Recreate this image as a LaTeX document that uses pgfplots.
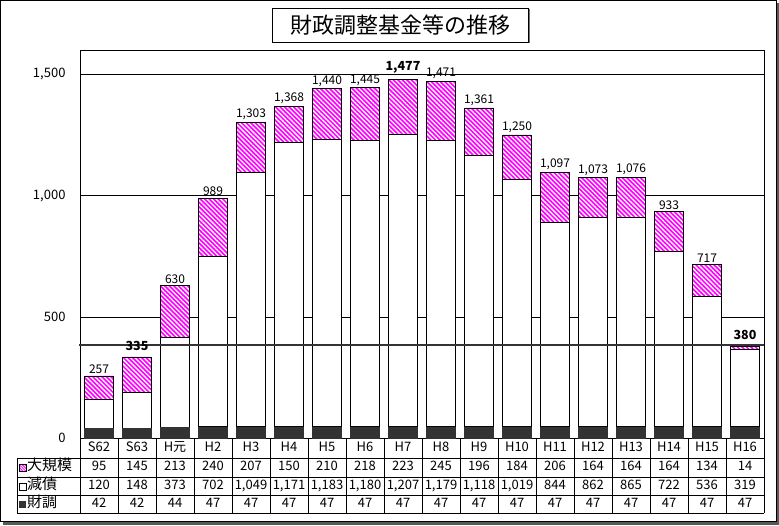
\documentclass[border=0pt]{standalone}
\usepackage{fontspec}
\setmainfont{Noto Sans CJK JP}
\usepackage{pgfplots}
\usepackage{pgfplotstable}
\pgfplotsset{compat=1.18}
\usetikzlibrary{patterns.meta}
\definecolor{zaicho}{HTML}{333333}
\definecolor{hatch}{HTML}{FF00FF}
\pgfkeys{/pgf/number format/.cd, 1000 sep={,}, assume math mode=true}

% 大規模 / 減債 / 財調, total, bold label flag
\pgfplotstableread{
cat dai gen zai tot b
S62 95 120 42 257 0
S63 145 148 42 335 1
H元 213 373 44 630 0
H2 240 702 47 989 0
H3 207 1049 47 1303 0
H4 150 1171 47 1368 0
H5 210 1183 47 1440 0
H6 218 1180 47 1445 0
H7 223 1207 47 1477 1
H8 245 1179 47 1471 0
H9 196 1118 47 1361 0
H10 184 1019 47 1250 0
H11 206 844 47 1097 0
H12 164 862 47 1073 0
H13 164 865 47 1076 0
H14 164 722 47 933 0
H15 134 536 47 717 0
H16 14 319 47 380 1
}\data

\begin{document}
\begin{tikzpicture}[x=1pt, y=1pt,
  cell/.style={anchor=center, inner sep=0pt, text height=0.72em, text depth=0.12em,
    font=\fontsize{13}{13}\selectfont}]
\useasboundingbox (0,0) rectangle (779,-526);
% outer frame
\draw[black!65, line width=3pt] (778,-3) -- (778,-523.5) -- (3,-523.5);
\draw[black, line width=1.4pt] (0.7,-0.7) rectangle (776.3,-521.5);

% title box
\fill[black!55] (273.5,-9.5) rectangle (529.5,-43.5);
\draw[black, line width=0.8pt, fill=white] (272,-8) rectangle (528,-42);
\node[font=\fontsize{22}{22}\selectfont] at (400,-25) {財政調整基金等の推移};

\begin{axis}[
  at={(80pt,-438.3pt)}, anchor=south west,
  scale only axis, width=684pt, height=388.3pt,
  xmin=-0.5, xmax=17.5, ymin=0, ymax=1600,
  ybar stacked, bar width=29pt,
  xtick=\empty, ytick={0,500,1000,1500},
  scaled y ticks=false,
  ymajorgrids, grid style={black, line width=0.6pt},
  major tick length=0pt,
  axis line style={black, line width=0.8pt},
  yticklabel style={font=\fontsize{13}{13}\selectfont, xshift=-11pt,
    /pgf/number format/1000 sep={,}, /pgf/number format/assume math mode=true},
]
\addplot[fill=zaicho, draw=zaicho] table[x expr=\coordindex, y=zai]{\data};
\addplot[fill=white, draw=black, line width=0.8pt] table[x expr=\coordindex, y=gen]{\data};
\addplot[draw=black, line width=0.8pt, preaction={fill=hatch},
  pattern={Lines[angle=-45, distance=3.2pt, line width=1.3pt]}, pattern color=white]
  table[x expr=\coordindex, y=dai]{\data};
\end{axis}

\begin{axis}[
  at={(80pt,-438.3pt)}, anchor=south west,
  scale only axis, width=684pt, height=388.3pt,
  xmin=-0.5, xmax=17.5, ymin=0, ymax=1600,
  hide axis, clip=false,
  every node near coord/.append style={font=\fontsize{12}{12}\selectfont, inner sep=1pt},
]
\addplot[black!80, line width=1.8pt, forget plot] coordinates {(-0.53,386) (17.5,386)};
\addplot[draw=none, mark=none, nodes near coords,
  every node near coord/.append style={yshift=1pt},
  restrict expr to domain={\thisrow{b}}{0:0}]
  table[x expr=\coordindex, y=tot]{\data};
\addplot[draw=none, mark=none, nodes near coords,
  every node near coord/.append style={yshift=5pt, font=\fontsize{12.5}{12.5}\selectfont\bfseries},
  restrict expr to domain={\thisrow{b}}{1:1}]
  table[x expr=\coordindex, y=tot]{\data};
\end{axis}

% data table below the chart
\foreach \yy in {458.3,477.3,495.5,513}{
  \draw[black, line width=0.8pt] (17,-\yy) -- (764,-\yy);
}
\draw[black, line width=0.8pt] (17,-458.3) -- (17,-513);
\foreach \i in {0,...,18}{
  \draw[black, line width=0.8pt] ({80+38*\i},-438.3) -- ({80+38*\i},-513);
}
% legend column
\fill[hatch] (19,-464.3) rectangle (26,-471.3);
\fill[pattern={Lines[angle=-45, distance=2pt, line width=0.8pt]}, pattern color=white] (19,-464.3) rectangle (26,-471.3);
\draw[black, line width=0.6pt] (19,-464.3) rectangle (26,-471.3);
\draw[black, line width=0.6pt, fill=white] (19,-483) rectangle (26,-490);
\fill[zaicho] (19,-501) rectangle (26,-508);
\node[cell, anchor=west, font=\fontsize{15}{15}\selectfont] at (27,-467.8) {大規模};
\node[cell, anchor=west, font=\fontsize{15}{15}\selectfont] at (27,-486.4) {減債};
\node[cell, anchor=west, font=\fontsize{15}{15}\selectfont] at (27,-504.3) {財調};

\foreach \i in {0,...,17}{
  \pgfmathsetmacro{\cx}{99+38*\i}
  \pgfplotstablegetelem{\i}{cat}\of\data
  \node[cell] at (\cx,-448.3) {\pgfplotsretval};
  \pgfplotstablegetelem{\i}{dai}\of\data
  \node[cell] at (\cx,-467.8) {\pgfmathprintnumber{\pgfplotsretval}};
  \pgfplotstablegetelem{\i}{gen}\of\data
  \node[cell] at (\cx,-486.4) {\pgfmathprintnumber{\pgfplotsretval}};
  \pgfplotstablegetelem{\i}{zai}\of\data
  \node[cell] at (\cx,-504.3) {\pgfmathprintnumber{\pgfplotsretval}};
}
\end{tikzpicture}
\end{document}
